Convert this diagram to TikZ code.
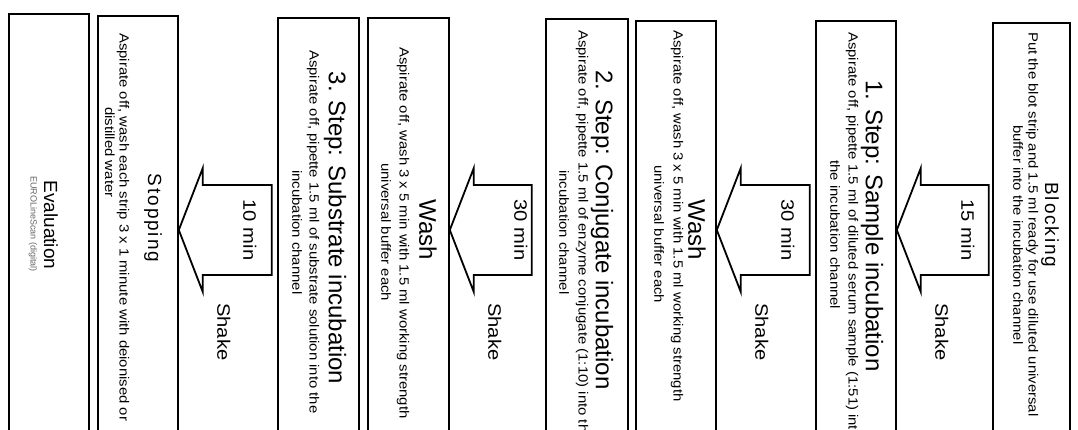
\documentclass[tikz,border=0pt]{standalone}
\usepackage{fontspec}
\setmainfont{Liberation Sans}
\newfontfamily\smallsf[FakeStretch=1.12]{Liberation Sans}
\newfontfamily\spacedsf[LetterSpace=10]{Liberation Sans}
\usetikzlibrary{calc}

\tikzset{
  stepbox/.style={draw, line width=1.8pt, minimum width=80pt, minimum height=440pt,
    anchor=north west, inner sep=0pt},
  titletext/.style={rotate=-90, inner sep=0pt, font=\fontsize{24}{28}\selectfont},
  desctext/.style={rotate=-90, anchor=west, inner sep=0pt, font=\smallsf\fontsize{13.3}{15}\selectfont},
  timetext/.style={rotate=-90, inner sep=0pt, font=\smallsf\fontsize{18}{20}\selectfont},
  bigarrow/.style={draw, line width=1.8pt, line join=miter},
}

\begin{document}
\begin{tikzpicture}[x=1pt, y=-1pt]
  \useasboundingbox (0,0) rectangle (1078,430);
  \clip (0,0) rectangle (1078,430);

  % boxes, from right to left
  \node[stepbox, minimum width=77pt] (block) at (992,22) {};
  \node[stepbox] (step1) at (815,20) {};
  \node[stepbox] (wash1) at (635,20) {};
  \node[stepbox, minimum width=82pt] (step2) at (545,18) {};
  \node[stepbox, minimum width=81pt] (wash2) at (367,17) {};
  \node[stepbox, minimum width=81pt] (step3) at (277,17) {};
  \node[stepbox] (stop) at (97,15) {};
  \node[stepbox] (eval) at (8,13) {};

  % titles
  \node[titletext, font=\spacedsf\fontsize{19}{22}\selectfont] (blocktitle) at (1050,225) {Blocking};
  \node[titletext] (step1title) at (872,226) {1. Step: Sample incubation};
  \node[titletext] (wash1title) at (697,230) {Wash};
  \node[titletext] (step2title) at (602,230) {2. Step: Conjugate incubation};
  \node[titletext] (wash2title) at (428,230) {Wash};
  \node[titletext] (step3title) at (335,228) {3. Step: Substrate incubation};
  \node[titletext, font=\spacedsf\fontsize{19}{22}\selectfont] (stoptitle) at (153,218) {Stopping};
  \node[titletext, font=\fontsize{19}{22}\selectfont] (evaltitle) at (51,225) {Evaluation};

  % descriptions
  \node[desctext] (block1) at (1032,32) {Put the blot strip and 1.5 ml ready for use diluted universal};
  \node[desctext] (block2) at (1018,125) {buffer into the incubation channel};
  \node[desctext] (step1a) at (852,32) {Aspirate off, pipette 1.5 ml of diluted serum sample (1:51) into};
  \node[desctext] (step1b) at (835,160) {the incubation channel};
  \node[desctext] (wash1a) at (677,30) {Aspirate off, wash 3 x 5 min with 1.5 ml working strength};
  \node[desctext] (wash1b) at (659,165) {universal buffer each};
  \node[desctext] (step2a) at (582,30) {Aspirate off, pipette 1.5 ml of enzyme conjugate (1:10) into the};
  \node[desctext] (step2b) at (564,170) {incubation channel};
  \node[desctext] (wash2a) at (403,47) {Aspirate off, wash 3 x 5 min with 1.5 ml working strength};
  \node[desctext] (wash2b) at (386,163) {universal buffer each};
  \node[desctext] (step3a) at (313,50) {Aspirate off, pipette 1.5 ml of substrate solution into the};
  \node[desctext] (step3b) at (297,170) {incubation channel};
  \node[desctext] (stop1) at (123,33) {Aspirate off, wash each strip 3 x 1 minute with deionised or};
  \node[desctext] (stop2) at (110,107) {distilled water};
  \node[desctext, anchor=center, font=\fontsize{9}{11}\selectfont, text=black!60] (evalsub) at (33,224) {EUROLineScan (digital)};

  % block arrows
  \foreach \from/\len/\lbl in {step1/92/15 min, wash1/93/30 min, wash2/82/30 min, stop/93/10 min}{
    \draw[bigarrow] (\from.east |- 0,230) -- ++(24,-62) -- ++(0,17) -- ++(\len-24,0)
      -- ++(0,90) -- ++(24-\len,0) -- ++(0,17) -- cycle;
    \node[timetext] (min-\from) at ($(\from.east |- 0,230)+(71,0)$) {\lbl};
    \node[timetext, anchor=west] (shake-\from) at ($(\from.east |- 0,303)+(45,0)$) {Shake};
  }
\end{tikzpicture}
\end{document}
